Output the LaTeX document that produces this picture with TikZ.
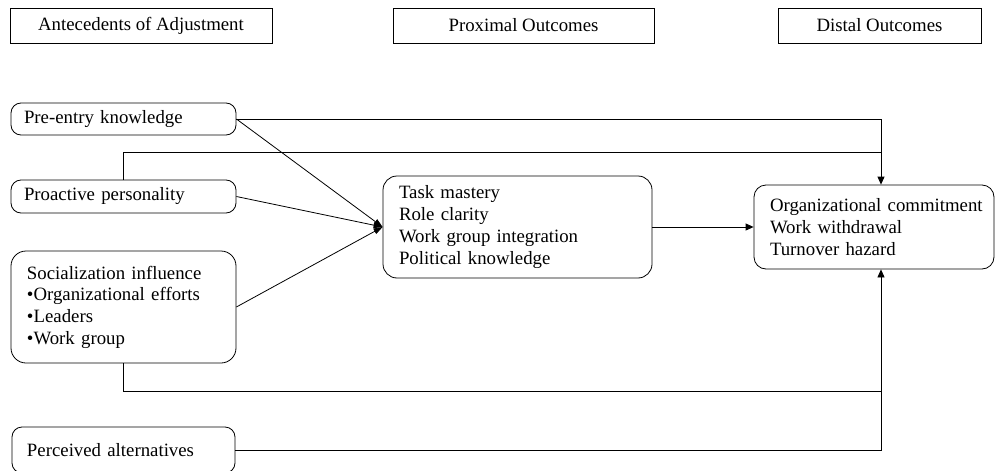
\documentclass[tikz,border=0pt]{standalone}
\usepackage{fontspec}
\setmainfont{Liberation Serif}
\usetikzlibrary{arrows.meta}
\hyphenpenalty=10000
\begin{document}
\begin{tikzpicture}[x=1pt,y=-1pt,
  every node/.style={font=\fontsize{18.8}{21.7}\selectfont},
  hdr/.style={draw, line width=0.8pt, minimum height=35pt, inner sep=0pt},
  rbox/.style={draw, line width=0.8pt, rounded corners=10pt, align=left, inner ysep=0pt},
  conn/.style={line width=0.8pt},
  arr/.style={conn, -{Triangle[length=8pt,width=7pt]}},
  conv/.style={conn, -{Triangle[length=9pt,width=6pt]}}
]
\clip (0,0) rectangle (997,471);
% headers
\node[hdr, minimum width=262pt] (h1) at (141,25.5) {Antecedents of Adjustment};
\node[hdr, minimum width=261pt] (h2) at (523.5,25.5) {Proximal Outcomes};
\node[hdr, minimum width=203pt] (h3) at (879.5,25.5) {Distal Outcomes};
% antecedents
\node[rbox, inner xsep=13pt, text width=199pt, minimum height=32pt] (pre) at (123.5,119) {Pre-entry knowledge};
\node[rbox, inner xsep=13pt, text width=199pt, minimum height=33pt] (pro) at (123.5,196.5) {Proactive personality};
\node[rbox, rounded corners=15pt, inner xsep=16pt, text width=193pt, minimum height=112pt] (soc) at (123.5,307)
  {Socialization influence\\ •Organizational efforts\\ •Leaders\\ •Work group};
\node[rbox, inner xsep=15pt, text width=193pt, minimum height=46pt] (per) at (123.5,450) {Perceived alternatives};
% proximal
\node[rbox, rounded corners=14pt, inner xsep=16pt, text width=237pt, minimum height=102pt] (task) at (517.5,227)
  {Task mastery\\ Role clarity\\ Work group integration\\ Political knowledge};
% distal
\node[rbox, rounded corners=12pt, inner xsep=16pt, text width=208pt, minimum height=84pt] (dist) at (874,227)
  {\mbox{Organizational commitment}\\ Work withdrawal\\ Turnover hazard};
\coordinate (colx) at (881,0);
\coordinate (proline) at (0,152);
\coordinate (socline) at (0,391);
% connectors
\draw[arr] (pre.east) -| (colx |- dist.north);
\draw[conn] (pro.north) |- (colx |- proline);
\draw[conn] (soc.south) |- (colx |- socline);
\draw[arr] (per.east) -| (colx |- dist.south);
\draw[conv] (pre.east) -- (task.west);
\draw[conv] (pro.east) -- (task.west);
\draw[conv] (soc.east) -- (task.west);
\draw[arr] (task.east) -- (dist.west);
\end{tikzpicture}
\end{document}
